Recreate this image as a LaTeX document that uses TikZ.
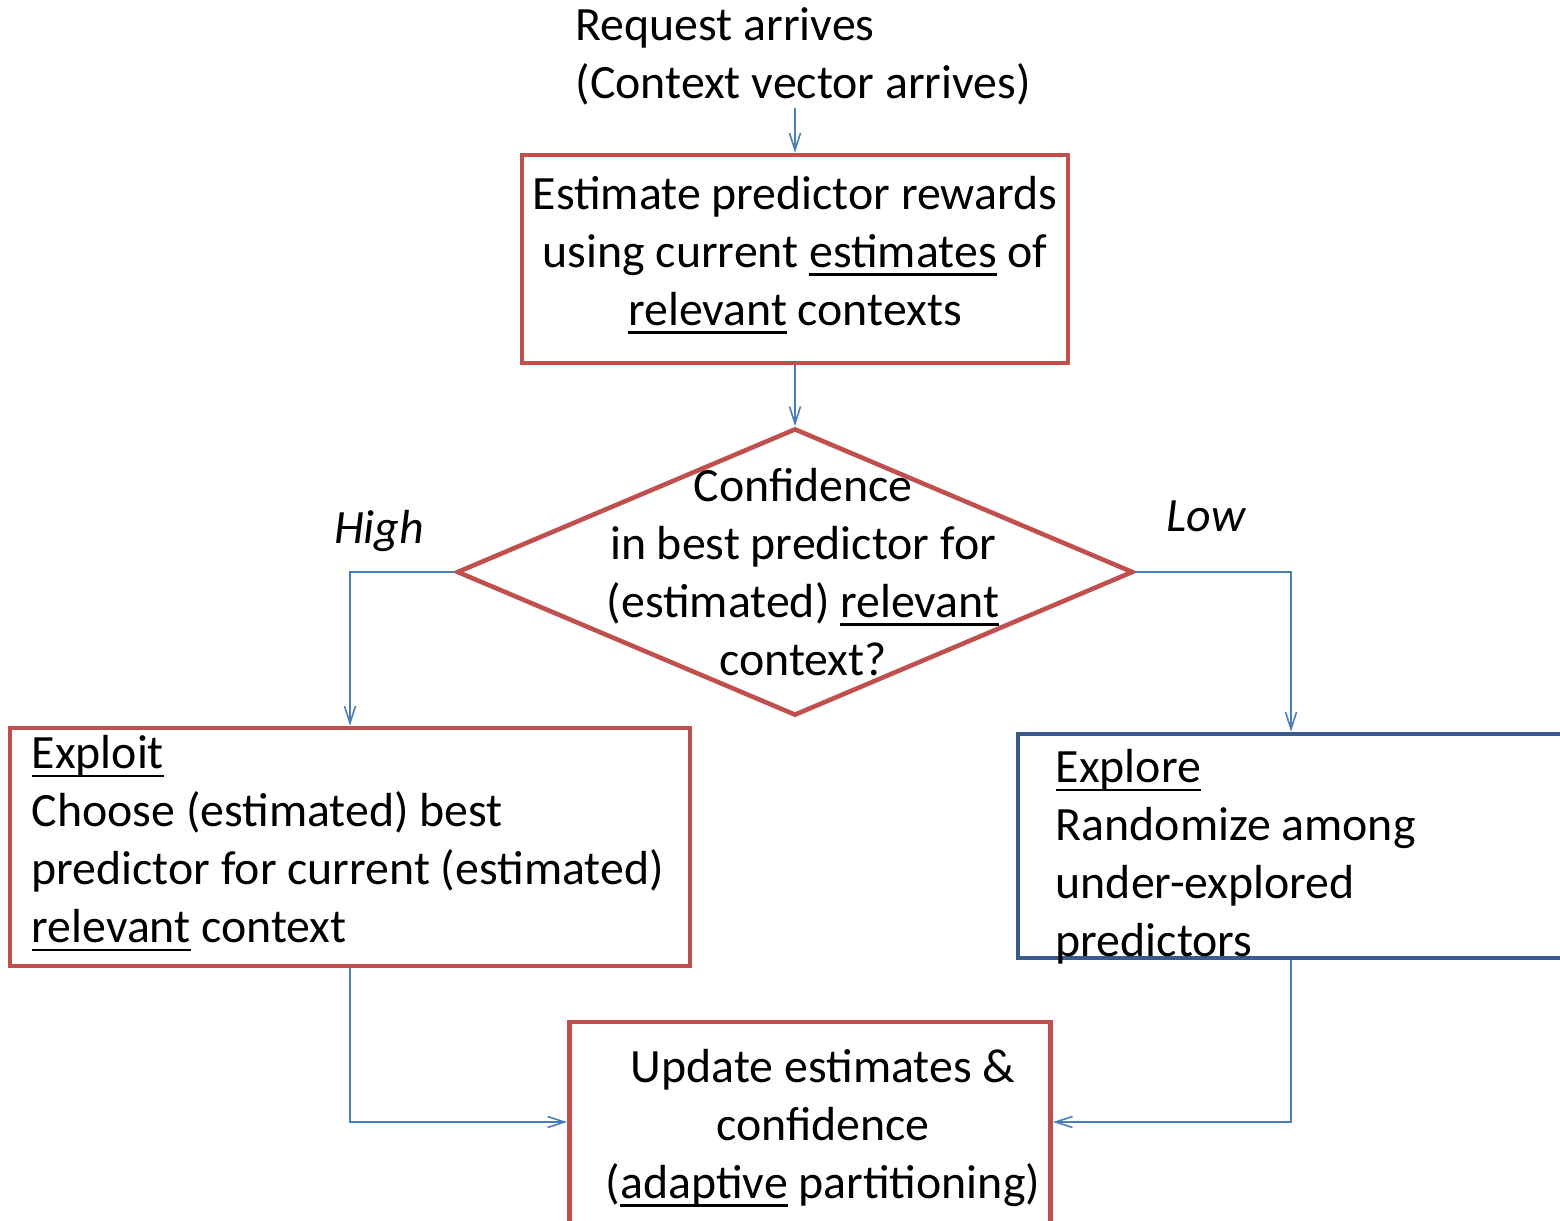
\documentclass[tikz,border=0pt]{standalone}
\usepackage{fontspec}
\setmainfont{Carlito}
\usetikzlibrary{arrows.meta,shapes.geometric}
\newsavebox\ulwbox
\newcommand\ulw[1]{\sbox\ulwbox{#1}\rlap{\rule[-0.17em]{\wd\ulwbox}{0.05em}}\usebox\ulwbox}
\definecolor{boxred}{HTML}{C0504D}
\definecolor{boxblue}{HTML}{385D8A}
\definecolor{linkblue}{HTML}{4A7EBB}
\tikzset{
  txt/.style={font=\fontsize{13.6}{16.5}\selectfont, inner sep=0pt},
  redbox/.style={draw=boxred, line width=1.3pt, inner sep=0pt},
  bluebox/.style={draw=boxblue, line width=1.3pt, inner sep=0pt},
  link/.style={draw=linkblue, line width=0.45pt, -{Straight Barb[length=1.7mm,width=1.1mm]}},
}
\begin{document}
\begin{tikzpicture}[x=0.01cm,y=-0.01cm]
\useasboundingbox (0,0) rectangle (1560,1221);
\clip (0,0) rectangle (1560,1221);
% top text
\node[txt, anchor=west, align=left] (req) at (575,56) {Request arrives\\(Context vector arrives)};
\coordinate (reqout) at (795,108);
% estimate box
\node[redbox, minimum width=5.46cm, minimum height=2.08cm] (est) at (795,259) {};
\node[txt, align=center] (esttxt) at (795,255)
  {Estimate predictor rewards\\using current \ulw{estimates} of\\\ulw{relevant} contexts};
% diamond
\node[diamond, draw=boxred, line width=1.3pt, inner sep=0pt, minimum width=6.76cm, minimum height=2.87cm] (dia) at (795,572) {};
\node[txt, align=center] (diatxt) at (803,572)
  {Confidence\\in best predictor for\\(estimated) \ulw{relevant}\\context?};
% labels
\node[txt, font=\fontsize{13.6}{16.5}\selectfont\itshape] (high) at (379,531) {High};
\node[txt, font=\fontsize{13.6}{16.5}\selectfont\itshape] (low) at (1206,516) {Low};
% exploit
\node[redbox, minimum width=6.80cm, minimum height=2.38cm] (exploit) at (350,847) {};
\node[txt, anchor=north west, align=left] (exploittxt) at (31,735)
  {\ulw{Exploit}\\Choose (estimated) best\\predictor for current (estimated)\\\ulw{relevant} context};
% explore
\node[bluebox, minimum width=5.46cm, minimum height=2.24cm] (explore) at (1291,846) {};
\node[txt, anchor=north west, align=left] (exploretxt) at (1055,749)
  {\ulw{Explore}\\Randomize among\\under-explored\\predictors};
% update
\node[redbox, minimum width=4.81cm, minimum height=2.10cm] (update) at (810,1127) {};
\node[txt, align=center] (updtxt) at (823,1128)
  {Update estimates \&\\confidence\\(\ulw{adaptive} partitioning)};
% connectors
\draw[link] (reqout) -- (est.north);
\draw[link] (est.south) -- (dia.north);
\draw[link] (dia.west) -| (exploit.north);
\draw[link] (dia.east) -| (explore.north);
\draw[link] (exploit.south) |- ([yshift=0.05cm]update.west);
\draw[link] (explore.south) |- ([yshift=0.05cm]update.east);
\end{tikzpicture}
\end{document}
